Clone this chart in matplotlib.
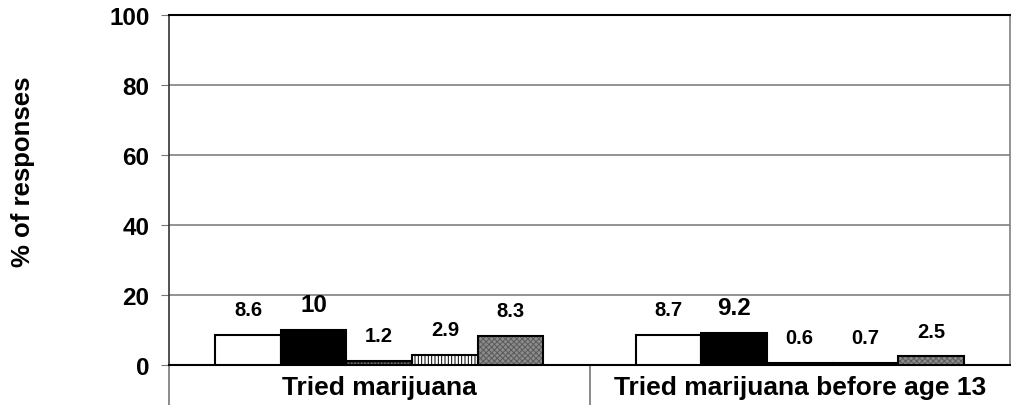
import matplotlib
matplotlib.use("Agg")
import matplotlib.pyplot as plt
import numpy as np

plt.rcParams['font.family'] = ['Liberation Sans', 'DejaVu Sans']
plt.rcParams['hatch.linewidth'] = 0.7

categories = ["Tried marijuana", "Tried marijuana before age 13"]
series_values = [
    [8.6, 8.7],
    [10, 9.2],
    [1.2, 0.6],
    [2.9, 0.7],
    [8.3, 2.5],
]
yticks = [0, 20, 40, 60, 80, 100]

faces = ['white', 'black', '#2a2a2a', 'white', '#8c8c8c']
hatches = [None, None, '.....', '|||||', 'xxxxxx']
hatch_cols = ['black', 'black', '#777777', 'black', '#5a5a5a']
label_sizes = [14.5, 17.5, 14.5, 14.5, 14.5]

W, H = 1012, 406
fig = plt.figure(figsize=(W / 100, H / 100), dpi=100)
ax = fig.add_axes([169 / W, 40 / H, (1010 - 169) / W, 350 / H])

x = np.arange(len(categories))
bw = 0.156
n = len(series_values)
for i, vals in enumerate(series_values):
    pos = x + (i - (n - 1) / 2) * bw
    ax.bar(pos, vals, width=bw, color=faces[i], edgecolor=hatch_cols[i],
           hatch=hatches[i], linewidth=0, zorder=3)
    ax.bar(pos, vals, width=bw, fill=False, edgecolor='black', linewidth=1.5, zorder=4)
    for xp, v in zip(pos, vals):
        ax.annotate(f"{v:g}", (xp, v), xytext=(0, 18), textcoords='offset points',
                    ha='center', va='center', fontsize=label_sizes[i], fontweight='bold')

ax.set_xlim(-0.5, 1.5)
ax.set_ylim(0, 100)
ax.set_yticks(yticks)
ax.set_yticklabels([str(t) for t in yticks], fontsize=17.5, fontweight='bold')
ax.tick_params(axis='y', direction='out', length=6, color='#777777', pad=8)
ax.set_xticks([])
ax.yaxis.grid(True, color='#808080', linewidth=1.2, zorder=0)
ax.set_axisbelow(True)

ax.spines['top'].set_color('black')
ax.spines['top'].set_linewidth(1.5)
ax.spines['bottom'].set_color('black')
ax.spines['bottom'].set_linewidth(1.5)
ax.spines['right'].set_color('#808080')
ax.spines['right'].set_linewidth(1.2)
ax.spines['left'].set_color('#333333')
ax.spines['left'].set_linewidth(1.2)

# category axis below
drop = -40 / 350
ax.plot([0, 0], [0, drop], transform=ax.transAxes, color='#777777', lw=1.2, clip_on=False)
ax.plot([0.5, 0.5], [0, drop], transform=ax.transAxes, color='#777777', lw=1.2, clip_on=False)
for xi, c in zip(x, categories):
    ax.text(xi, -6.2, c, ha='center', va='center', fontsize=19, fontweight='bold')

fig.text(23 / W, 1 - 172 / H, "% of responses", rotation=90, ha='center', va='center',
         fontsize=18.5, fontweight='bold')

fig.savefig("out.png", dpi=100)
